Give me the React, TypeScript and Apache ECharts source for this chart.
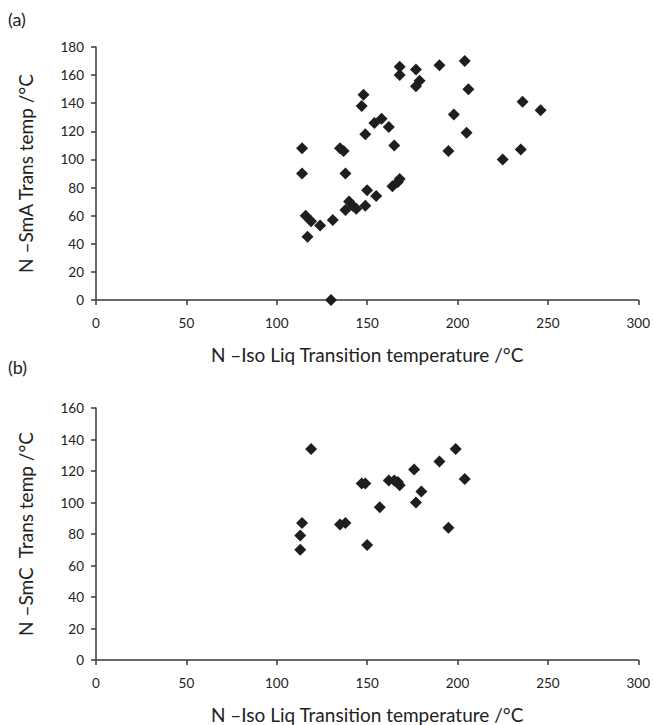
import React, { useEffect, useRef } from "react";
import * as echarts from "echarts";

// Panel (a): N-Iso Liq vs N-SmA transition temperatures (°C)
const smaIso = [130, 114, 114, 116, 117, 119, 124, 131, 135, 137, 138, 138, 140, 142, 144, 147, 148, 149, 149, 150, 154, 155, 158, 162, 164, 165, 167, 168, 168, 168, 177, 177, 179, 190, 195, 198, 204, 205, 206, 225, 235, 236, 246];
const smaTemp = [0, 108, 90, 60, 45, 56, 53, 57, 108, 106, 90, 64, 70, 67, 65, 138, 146, 118, 67, 78, 126, 74, 129, 123, 81, 110, 84, 86, 166, 160, 164, 152, 156, 167, 106, 132, 170, 119, 150, 100, 107, 141, 135];

// Panel (b): N-Iso Liq vs N-SmC transition temperatures (°C)
const smcIso = [114, 113, 113, 119, 135, 138, 147, 149, 150, 157, 162, 165, 167, 168, 176, 177, 180, 190, 195, 199, 204];
const smcTemp = [87, 79, 70, 134, 86, 87, 112, 112, 73, 97, 114, 114, 113, 111, 121, 100, 107, 126, 84, 134, 115];

const xTitle = "N \u2013Iso Liq Transition temperature /\u00b0C";
const yTitleA = "N \u2013SmA Trans temp /\u00b0C";
const yTitleB = "N \u2013SmC  Trans temp /\u00b0C";
const xRange = [0, 300, 50];
const yRangeA = [0, 180, 20];
const yRangeB = [0, 160, 20];

const FONT = "Lato, 'Noto Sans', sans-serif";
const TXT = "#222";
const AX = "#3a3a3a";

function zip(a: number[], b: number[]) {
  return a.map((v, i) => [v, b[i]]);
}

export default function App() {
  const ref = useRef<HTMLDivElement>(null);
  useEffect(() => {
    document.body.style.margin = "0";
    const chart = echarts.init(ref.current!, null, { renderer: "svg" });
    const axisLine = { show: true, lineStyle: { color: AX, width: 1.5 } };
    const axisTick = { show: true, length: 5, inside: false, lineStyle: { color: AX, width: 1.5 } };
    const xAxis = (gi: number) => ({
      type: "value",
      gridIndex: gi,
      min: xRange[0],
      max: xRange[1],
      interval: xRange[2],
      axisLine,
      axisTick,
      splitLine: { show: false },
      axisLabel: { color: TXT, fontSize: 13.5, fontFamily: FONT, margin: 16 },
      name: xTitle,
      nameLocation: "middle",
      nameGap: 45,
      nameTextStyle: { color: TXT, fontSize: 19, fontFamily: FONT },
    });
    const yAxis = (gi: number, r: number[], name: string) => ({
      type: "value",
      gridIndex: gi,
      min: r[0],
      max: r[1],
      interval: r[2],
      axisLine,
      axisTick,
      splitLine: { show: false },
      axisLabel: { color: TXT, fontSize: 13.5, fontFamily: FONT, margin: 12 },
      name,
      nameLocation: "middle",
      nameGap: 61,
      nameTextStyle: { color: TXT, fontSize: 19, fontFamily: FONT },
    });
    const series = (gi: number, data: number[][]) => ({
      type: "scatter",
      xAxisIndex: gi,
      yAxisIndex: gi,
      symbol: "diamond",
      symbolSize: 12,
      itemStyle: { color: "#1e1e1e", opacity: 1 },
      data,
    });
    chart.setOption({
      animation: false,
      backgroundColor: "#fff",
      grid: [
        { left: 96, top: 47, width: 546, height: 253 },
        { left: 96, top: 408, width: 546, height: 252 },
      ],
      xAxis: [xAxis(0), xAxis(1)],
      yAxis: [yAxis(0, yRangeA, yTitleA), yAxis(1, yRangeB, yTitleB)],
      series: [series(0, zip(smaIso, smaTemp)), series(1, zip(smcIso, smcTemp))],
      graphic: [
        { type: "text", left: 8, top: 10, style: { text: "(a)", fill: TXT, fontSize: 18, fontFamily: FONT } },
        { type: "text", left: 8, top: 358, style: { text: "(b)", fill: TXT, fontSize: 18, fontFamily: FONT } },
      ],
    });
    return () => chart.dispose();
  }, []);
  return <div ref={ref} style={{ width: 653, height: 725 }} />;
}
